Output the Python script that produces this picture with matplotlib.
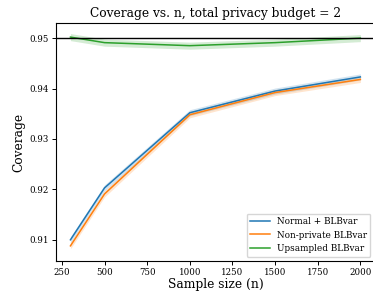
import matplotlib
matplotlib.use("Agg")
import matplotlib.pyplot as plt

# coverage vs sample size, total privacy budget = 2
n_vals = [300, 500, 1000, 1500, 2000]

normal_blb = [0.9100, 0.9203, 0.9352, 0.9395, 0.9423]
nonpriv_blb = [0.9088, 0.9191, 0.9348, 0.9392, 0.9418]
upsampled_blb = [0.9502, 0.9491, 0.9485, 0.9491, 0.9500]

# half width of the shaded bands
normal_err = [0.0006, 0.0006, 0.0006, 0.0006, 0.0006]
nonpriv_err = [0.0006, 0.0006, 0.0006, 0.0006, 0.0006]
upsampled_err = [0.0007, 0.0007, 0.0007, 0.0007, 0.0007]

plt.rcParams['font.family'] = 'DejaVu Serif'

fig = plt.figure(figsize=(3.73, 2.95), dpi=100)
ax = fig.add_axes([0.150, 0.1153, 0.855, 0.8068])

series = [
    ("Normal + BLBvar", normal_blb, normal_err, "tab:blue"),
    ("Non-private BLBvar", nonpriv_blb, nonpriv_err, "tab:orange"),
    ("Upsampled BLBvar", upsampled_blb, upsampled_err, "tab:green"),
]
for lab, vals, err, col in series:
    lo = [v - e for v, e in zip(vals, err)]
    hi = [v + e for v, e in zip(vals, err)]
    ax.fill_between(n_vals, lo, hi, color=col, alpha=0.2, linewidth=0)
    ax.plot(n_vals, vals, color=col, linewidth=1.1, label=lab)

ax.axhline(0.95, color="black", linewidth=1.0)

ax.set_xlim(215, 2085)
ax.set_ylim(0.9058, 0.9530)
ax.set_xticks([250, 500, 750, 1000, 1250, 1500, 1750, 2000])
ax.set_yticks([0.91, 0.92, 0.93, 0.94, 0.95])
ax.tick_params(labelsize=6.2, length=3, width=0.7, pad=2)
for s in ax.spines.values():
    s.set_linewidth(0.8)

ax.set_title("Coverage vs. n, total privacy budget = 2", fontsize=8.8, pad=4)
ax.set_xlabel("Sample size (n)", fontsize=8.8, labelpad=1)
ax.set_ylabel("Coverage", fontsize=8.8, labelpad=3)
ax.legend(loc="lower right", fontsize=6.4, handlelength=2.2, borderaxespad=0.5)

fig.savefig("out.png", dpi=100)
